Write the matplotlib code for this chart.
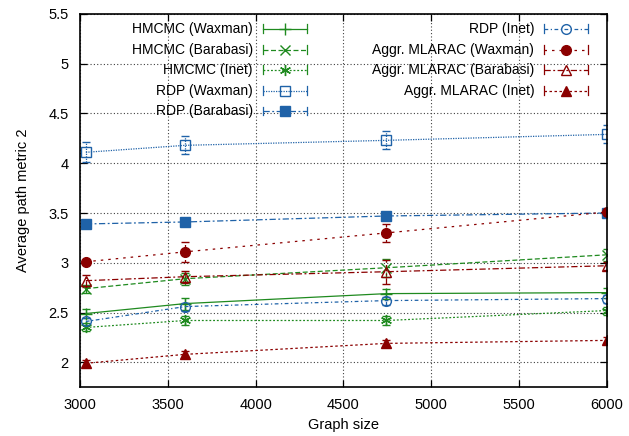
import matplotlib
matplotlib.use("Agg")
import matplotlib.pyplot as plt
from matplotlib.lines import Line2D

plt.rcParams['font.family'] = ['Liberation Sans', 'DejaVu Sans']
plt.rcParams['font.size'] = 10.5

graph_size = [3034, 3600, 4745, 6000]

hmcmc_waxman = [2.49, 2.59, 2.69, 2.70]
hmcmc_waxman_err = [0.05, 0.06, 0.05, 0.05]
hmcmc_barabasi = [2.74, 2.84, 2.95, 3.08]
hmcmc_barabasi_err = [0.04, 0.06, 0.09, 0.06]
hmcmc_inet = [2.35, 2.42, 2.42, 2.52]
hmcmc_inet_err = [0.04, 0.05, 0.05, 0.04]

rdp_waxman = [4.11, 4.18, 4.23, 4.29]
rdp_waxman_err = [0.10, 0.09, 0.09, 0.09]
rdp_barabasi = [3.39, 3.41, 3.47, 3.50]
rdp_barabasi_err = [0.03, 0.03, 0.03, 0.03]
rdp_inet = [2.41, 2.56, 2.62, 2.64]
rdp_inet_err = [0.04, 0.04, 0.04, 0.04]

aggr_waxman = [3.01, 3.11, 3.30, 3.51]
aggr_waxman_err = [0.02, 0.10, 0.09, 0.03]
aggr_barabasi = [2.82, 2.86, 2.91, 2.97]
aggr_barabasi_err = [0.06, 0.06, 0.12, 0.04]
aggr_inet = [1.99, 2.08, 2.19, 2.22]
aggr_inet_err = [0.03, 0.03, 0.03, 0.03]

GREEN = '#1f8a1f'
BLUE = '#1f62a8'
RED = '#8b0000'

# label, values, errors, colour, dash pattern, marker, marker filled
series = [
    ("HMCMC (Waxman)", hmcmc_waxman, hmcmc_waxman_err, GREEN, '-', '+', True),
    ("HMCMC (Barabasi)", hmcmc_barabasi, hmcmc_barabasi_err, GREEN, (0, (4, 2)), 'x', True),
    ("HMCMC (Inet)", hmcmc_inet, hmcmc_inet_err, GREEN, (0, (1.5, 1.5)), (6, 2, 0), True),
    ("RDP (Waxman)", rdp_waxman, rdp_waxman_err, BLUE, (0, (1, 1)), 's', False),
    ("RDP (Barabasi)", rdp_barabasi, rdp_barabasi_err, BLUE, (0, (5, 2, 1.5, 2)), 's', True),
    ("RDP (Inet)", rdp_inet, rdp_inet_err, BLUE, (0, (3, 2, 1, 2)), 'o', False),
    ("Aggr. MLARAC (Waxman)", aggr_waxman, aggr_waxman_err, RED, (0, (2, 4)), 'o', True),
    ("Aggr. MLARAC (Barabasi)", aggr_barabasi, aggr_barabasi_err, RED, (0, (5, 2, 1.5, 2)), '^', False),
    ("Aggr. MLARAC (Inet)", aggr_inet, aggr_inet_err, RED, (0, (2, 2)), '^', True),
]

MARKER_SIZE = {'+': 9, 'x': 7.5, 's': 7, 'o': 7, '^': 6.5}


def marker_kwargs(color, marker, filled):
    ms = MARKER_SIZE.get(marker, 8)
    kw = dict(marker=marker, markersize=ms, markeredgecolor=color, markeredgewidth=1.0)
    kw['markerfacecolor'] = color if filled else 'none'
    return kw


def draw_series(ax, label, values, errs, color, ls, marker, filled):
    line, caps, bars = ax.errorbar(graph_size, values, yerr=errs, color=color,
                                   linestyle=ls, linewidth=0.9, capsize=3,
                                   elinewidth=0.9, capthick=0.9,
                                   **marker_kwargs(color, marker, filled))
    for b in bars:
        b.set_linestyle(ls)


def draw_key_entry(ax, label, color, ls, marker, filled, x_text, x0, x1, y):
    # gnuplot style key: right-aligned text, sample line with end bars
    ax.text(x_text, y, label, transform=ax.transAxes, ha='right', va='center',
            fontsize=10)
    ax.add_line(Line2D([x0, x1], [y, y], transform=ax.transAxes, color=color,
                       linestyle=ls, linewidth=0.9, clip_on=False))
    for xe in (x0, x1):
        ax.add_line(Line2D([xe, xe], [y - 0.012, y + 0.012], transform=ax.transAxes,
                           color=color, linewidth=0.9, clip_on=False))
    ax.add_line(Line2D([(x0 + x1) / 2], [y], transform=ax.transAxes, color=color,
                       linestyle='none', clip_on=False,
                       **marker_kwargs(color, marker, filled)))


def plot_path_metric():
    fig = plt.figure(figsize=(6.29, 4.36), dpi=100)
    ax = fig.add_axes([0.127, 0.112, 0.838, 0.856])

    for s in series:
        draw_series(ax, *s)

    ax.set_xlim(3000, 6000)
    ax.set_ylim(1.75, 5.5)
    ax.set_xticks([3000, 3500, 4000, 4500, 5000, 5500, 6000])
    ax.set_yticks([2, 2.5, 3, 3.5, 4, 4.5, 5, 5.5])
    ax.set_yticklabels(['2', '2.5', '3', '3.5', '4', '4.5', '5', '5.5'])
    ax.tick_params(direction='in', top=True, right=True, length=5, width=0.9, pad=8)
    ax.grid(True, color='0.25', linestyle=(0, (1, 2)), linewidth=0.8)
    for sp in ax.spines.values():
        sp.set_linewidth(1.2)

    ax.set_xlabel("Graph size", labelpad=4)
    ax.set_ylabel("Average path metric 2", labelpad=13)

    rows = [0.960, 0.904, 0.850, 0.794, 0.740]
    for i, s in enumerate(series[:5]):
        label, _, _, color, ls, marker, filled = s
        draw_key_entry(ax, label, color, ls, marker, filled, 0.328, 0.347, 0.431, rows[i])
    for i, s in enumerate(series[5:]):
        label, _, _, color, ls, marker, filled = s
        draw_key_entry(ax, label, color, ls, marker, filled, 0.862, 0.880, 0.964, rows[i])

    fig.savefig("out.png", dpi=100)


if __name__ == '__main__':
    plot_path_metric()
